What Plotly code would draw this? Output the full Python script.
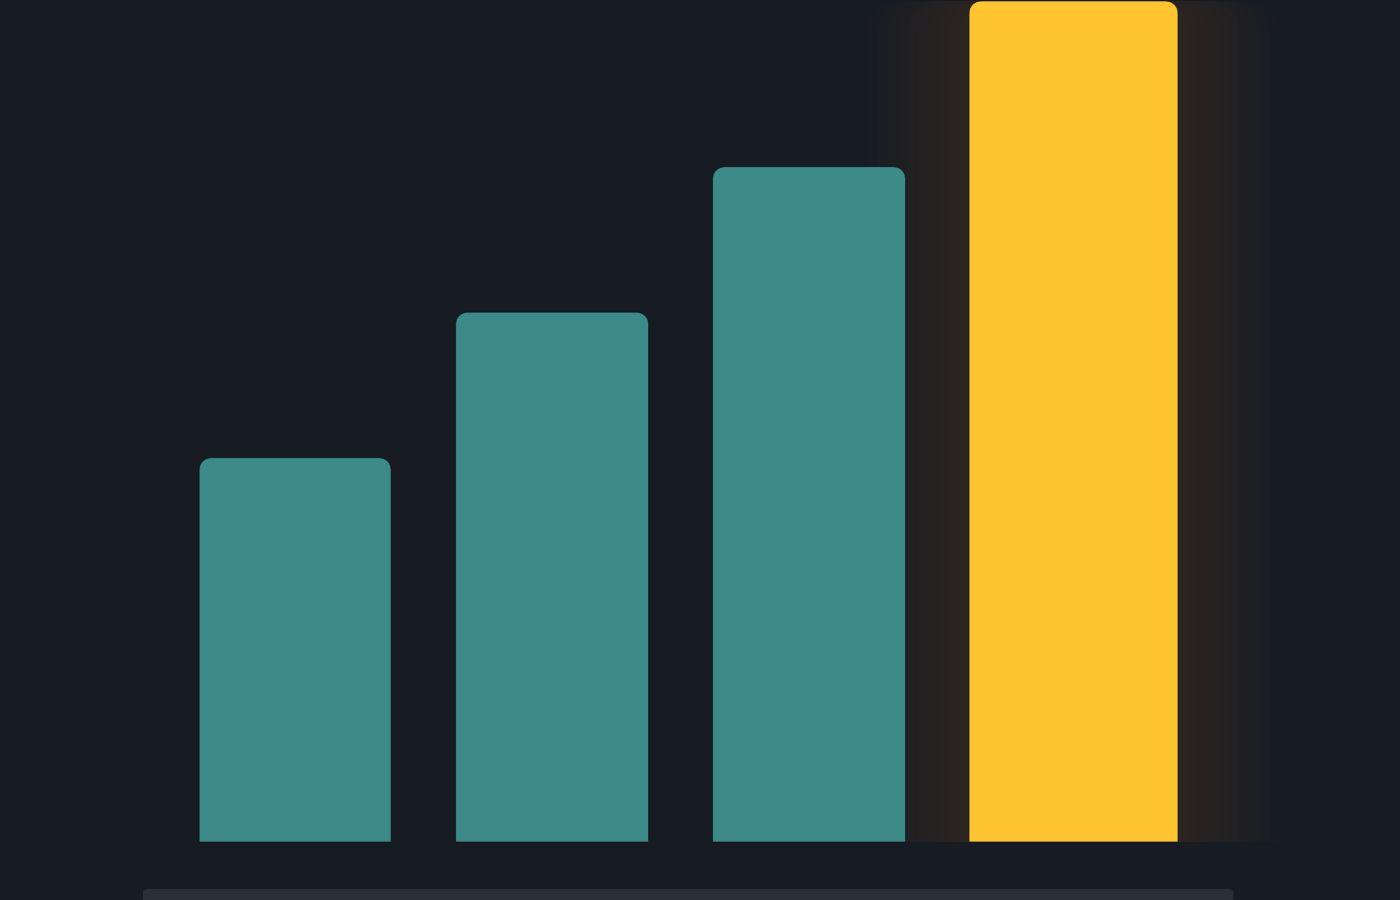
import plotly.graph_objects as go

categories = ["Q1", "Q2", "Q3", "Q4"]
values = [45.7, 63.0, 80.3, 100.0]
bar_colors = ["#3d8b89", "#3d8b89", "#3d8b89", "#ffc531"]
bar_widths = [0.747, 0.751, 0.751, 0.813]
bar_offsets = [-0.373, -0.375, -0.375, -0.377]

fig = go.Figure()

# soft glow behind the highlighted bar
n_glow = 10
for i in range(n_glow):
    w_extra = 0.8 * (i + 1) / n_glow
    fig.add_trace(go.Bar(
        x=[categories[3]], y=[values[3]],
        width=[bar_widths[3] + w_extra],
        offset=[bar_offsets[3] - w_extra / 2],
        marker=dict(color="rgba(255,205,50,0.013)", cornerradius=30, line=dict(width=0)),
        hoverinfo="skip", showlegend=False,
    ))

fig.add_trace(go.Bar(
    x=categories, y=values,
    width=bar_widths, offset=bar_offsets,
    marker=dict(color=bar_colors, cornerradius=12,
                line=dict(color="rgba(10,14,18,0.6)", width=1)),
    showlegend=False,
))

fig.add_shape(type="path", xref="paper", yref="paper",
              path="M 0.102 0 L 0.102 0.008 Q 0.102 0.0122 0.106 0.0122 L 0.877 0.0122 Q 0.881 0.0122 0.881 0.008 L 0.881 0 Z",
              fillcolor="#2a2e35", line=dict(width=0), layer="below")

fig.update_layout(
    width=1400, height=900,
    margin=dict(l=0, r=0, t=0, b=0),
    paper_bgcolor="#171b22", plot_bgcolor="#171b22",
    barmode="overlay",
    xaxis=dict(range=[-1.148, 4.300], showticklabels=False, showgrid=False,
               zeroline=False, showline=False,
               categoryorder="array", categoryarray=categories),
    yaxis=dict(range=[-6.9, 100.12], showticklabels=False, showgrid=False,
               zeroline=False, showline=False),
)

fig.write_html("out.html", config={"displayModeBar": False},
               post_script="document.body.style.margin='0';document.body.style.background='#171b22';")
